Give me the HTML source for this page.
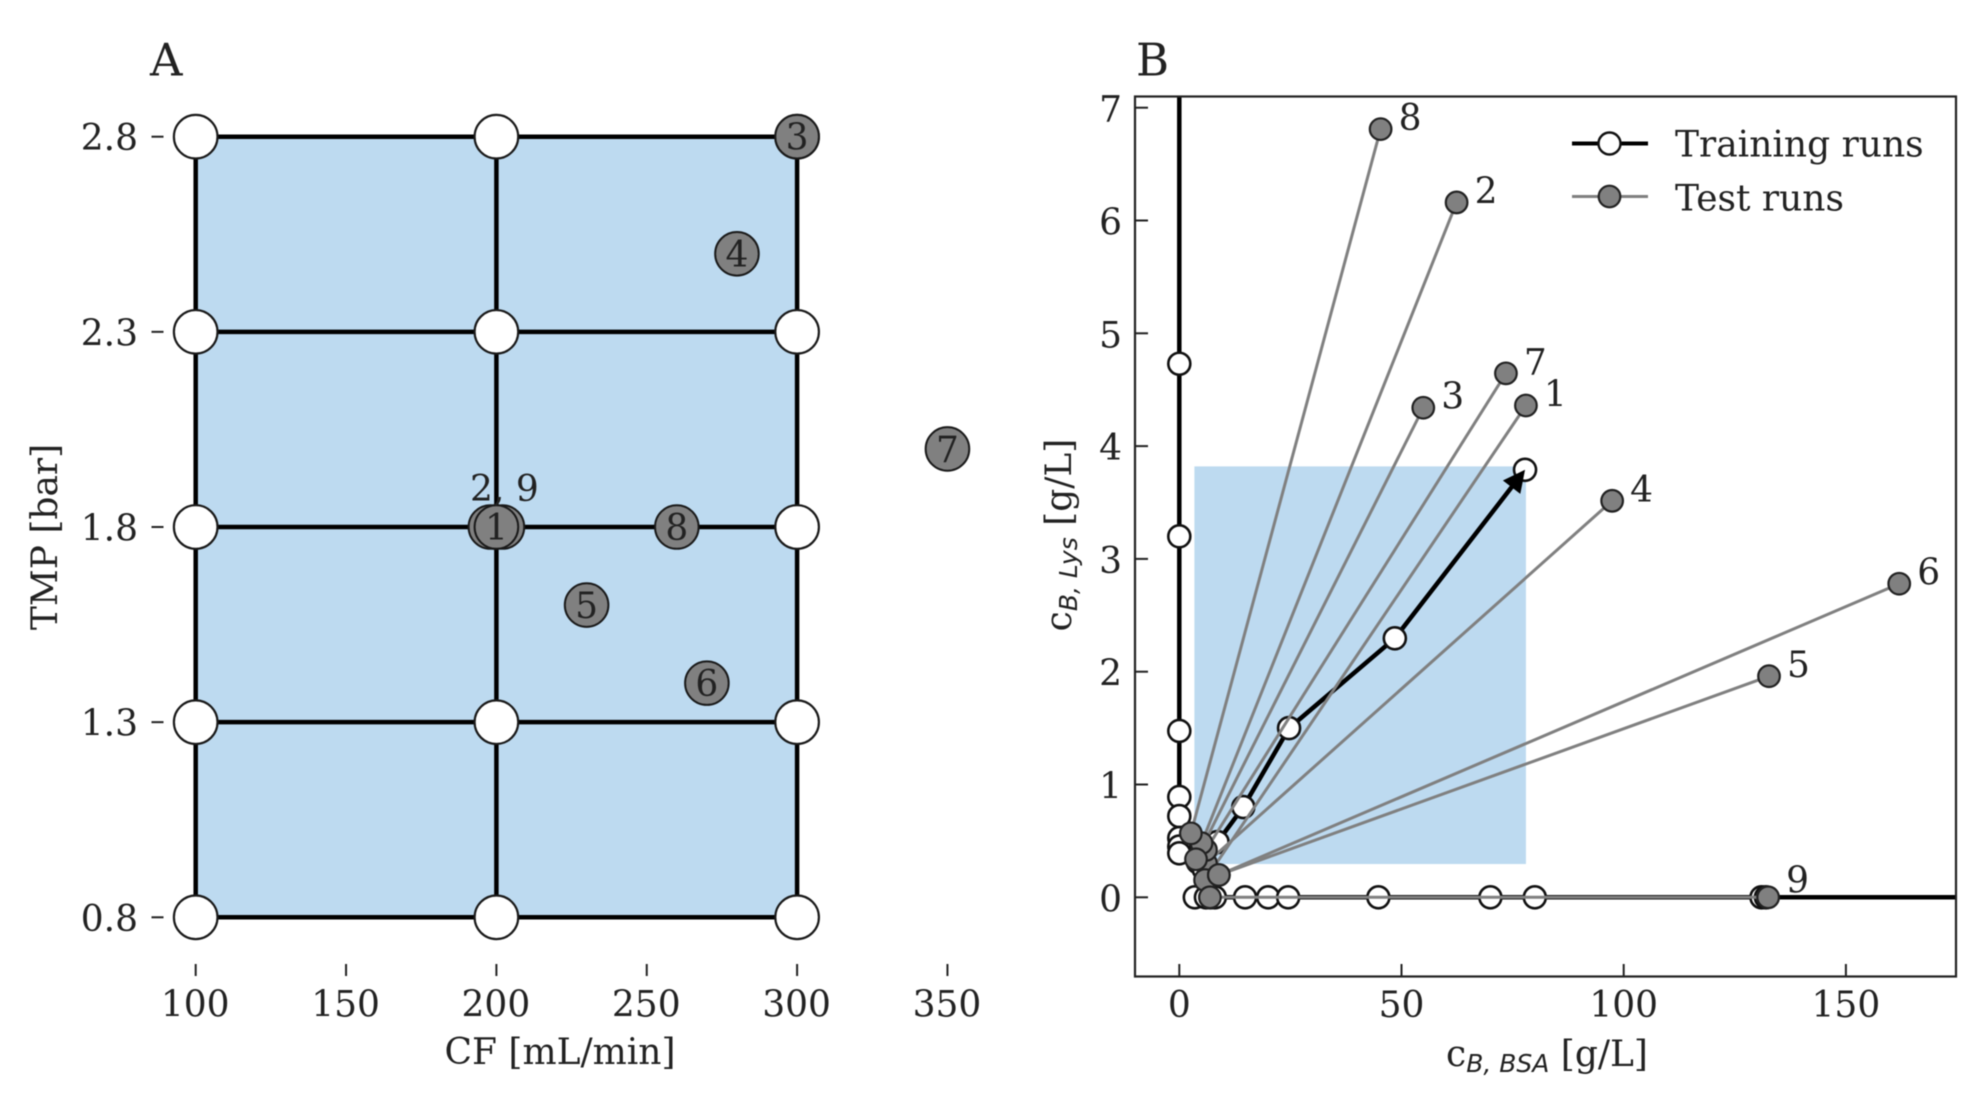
<!DOCTYPE html>
<html lang="en">
<head>
<meta charset="utf-8">
<title>Panels A and B: design space and breakthrough concentrations</title>
<style>
  html, body { margin: 0; padding: 0; background: #fff; }
  svg { display: block; filter: blur(0.6px); }
  text { font-family: "DejaVu Serif", "Liberation Serif", serif; font-size: 36px; fill: #222; }
  .sub { font-family: "DejaVu Sans", "Liberation Sans", sans-serif; font-style: italic; font-size: 25px; }
</style>
</head>
<body>
<svg id="figure" xmlns="http://www.w3.org/2000/svg" width="1984" height="1100" viewBox="0 0 1984 1100">
  <rect x="0" y="0" width="1984" height="1100" fill="#fff"/>
  <defs>
    <clipPath id="plot-b-clip"><rect x="1135" y="96" width="821" height="880.5"/></clipPath>
  </defs>

  <g id="panel-a"></g>
  <g id="panel-b"></g>

  <text x="150" y="75.5" style="font-size:45px">A</text>
  <text x="1136" y="75.5" style="font-size:45px">B</text>

  <text x="560" y="1064" text-anchor="middle">CF [mL/min]</text>
  <text transform="translate(57,537) rotate(-90)" text-anchor="middle">TMP [bar]</text>

  <text x="1547" y="1066" text-anchor="middle">c<tspan class="sub" dy="6">B, BSA</tspan><tspan dy="-6"> [g/L]</tspan></text>
  <text transform="translate(1071,535) rotate(-90)" text-anchor="middle">c<tspan class="sub" dy="6">B, Lys</tspan><tspan dy="-6"> [g/L]</tspan></text>

  <g>
    <line x1="1572" y1="143.5" x2="1648" y2="143.5" stroke="#000" stroke-width="4"/>
    <circle cx="1609.5" cy="143.5" r="11" fill="#fff" stroke="#111" stroke-width="2.4"/>
    <text x="1675" y="156.5">Training runs</text>
    <line x1="1572" y1="196.5" x2="1648" y2="196.5" stroke="#808080" stroke-width="3"/>
    <circle cx="1609.5" cy="196.5" r="10.8" fill="#808080" stroke="#222" stroke-width="2.2"/>
    <text x="1675" y="210.5">Test runs</text>
  </g>
</svg>

<script>
// ---------- Panel A data ----------
const gridCF = [100, 200, 300];
const gridTMP = [0.8, 1.3, 1.8, 2.3, 2.8];
const testRunsA = ['3', '4', '7', '8', '2', '9', '1', '5', '6'];
const testCF = [300, 280, 350, 260, 198, 202, 200, 230, 270];
const testTMP = [2.8, 2.5, 2.0, 1.8, 1.8, 1.8, 1.8, 1.6, 1.4];
const xTicksA = ['100', '150', '200', '250', '300', '350'];
const yTicksA = ['0.8', '1.3', '1.8', '2.3', '2.8'];

// ---------- Panel B data ----------
const trainVerticalBSA = [0, 0, 0, 0, 0, 0, 0, 0, 0];
const trainVerticalLys = [8.5, 4.73, 3.2, 1.475, 0.89, 0.72, 0.525, 0.45, 0.39];
const trainHorizontalBSA = [3.5, 6, 7, 8, 14.8, 20, 24.5, 44.8, 70, 80, 131, 132, 200];
const trainHorizontalLys = [0, 0, 0, 0, 0, 0, 0, 0, 0, 0, 0, 0, 0];
const trainDiagonalBSA = [4.2, 5.5, 8.6, 14.4, 24.7, 48.5, 77.8];
const trainDiagonalLys = [0.31, 0.25, 0.49, 0.8, 1.5, 2.296, 3.79];
const testRunsB = ['4', '7', '2', '1', '5', '6', '3', '8', '9'];
const testStartBSA = [6, 6, 5, 5.8, 8.9, 8.9, 3.76, 2.6, 6.9];
const testStartLys = [0.3, 0.42, 0.48, 0.153, 0.198, 0.198, 0.337, 0.567, 0];
const testEndBSA = [97.4, 73.5, 62.4, 78, 132.7, 162, 54.9, 45.3, 132.5];
const testEndLys = [3.515, 4.645, 6.16, 4.36, 1.96, 2.78, 4.34, 6.81, 0];
const regionBSA = [3.4, 78];
const regionLys = [0.295, 3.82];
const xTicksB = ['0', '50', '100', '150'];
const yTicksB = ['0', '1', '2', '3', '4', '5', '6', '7'];

// ---------- Axis functions ----------
function xA(v) { return 195.7 + (v - 100) * 3.007; }
function yA(v) { return 136.7 + (2.8 - v) * 390.3; }
function xB(v) { return 1179.3 + v * 4.444; }
function yB(v) { return 897.3 - v * 112.8; }

const NS = 'http://www.w3.org/2000/svg';
function make(tag, parent, geometry, content) {
  const el = document.createElementNS(NS, tag);
  for (const key in geometry) { el.setAttribute(key, geometry[key]); }
  if (content !== undefined) { el.textContent = content; }
  parent.appendChild(el);
  return el;
}
function pathFrom(xs, ys, xf, yf) {
  return xs.map(function (v, i) { return (i ? 'L' : 'M') + xf(v).toFixed(2) + ' ' + yf(ys[i]).toFixed(2); }).join(' ');
}

// ---------- Panel A ----------
const panelA = document.getElementById('panel-a');

const designRegion = make('rect', panelA, {
  x: xA(gridCF[0]), y: yA(gridTMP[gridTMP.length - 1]),
  width: xA(gridCF[gridCF.length - 1]) - xA(gridCF[0]),
  height: yA(gridTMP[0]) - yA(gridTMP[gridTMP.length - 1]),
  fill: '#bddaf0'
});



gridTMP.forEach(function (t) {
  const line = make('line', panelA, { x1: xA(gridCF[0]), x2: xA(gridCF[gridCF.length - 1]), y1: yA(t), y2: yA(t), stroke: '#000', 'stroke-width': 4.5 });
  
  
});
gridCF.forEach(function (c) {
  const line = make('line', panelA, { x1: xA(c), x2: xA(c), y1: yA(gridTMP[0]), y2: yA(gridTMP[gridTMP.length - 1]), stroke: '#000', 'stroke-width': 4.5, 'stroke-linecap': 'square' });
  
  
});

xTicksA.forEach(function (label) {
  const v = Number(label);
  const tick = make('line', panelA, { x1: xA(v), x2: xA(v), y1: 964, y2: 976, stroke: '#222', 'stroke-width': 2 });
  
  
  const text = make('text', panelA, { x: xA(v) - 0.5, y: 1016.5, 'text-anchor': 'middle' }, label);
  
  
});
yTicksA.forEach(function (label) {
  const v = Number(label);
  const tick = make('line', panelA, { x1: 151.5, x2: 163.5, y1: yA(v), y2: yA(v), stroke: '#222', 'stroke-width': 2 });
  
  
  const text = make('text', panelA, { x: 138, y: yA(v) + 13.5, 'text-anchor': 'end' }, label);
  
  
});

gridCF.forEach(function (c) {
  gridTMP.forEach(function (t) {
    const point = make('circle', panelA, { cx: xA(c), cy: yA(t), r: 21.8, fill: '#fff', stroke: '#1a1a1a', 'stroke-width': 2.2 });
    
    
  });
});

testRunsA.forEach(function (run, i) {
  const point = make('circle', panelA, { cx: xA(testCF[i]), cy: yA(testTMP[i]), r: 21.8, fill: '#808080', stroke: '#1a1a1a', 'stroke-width': 2 });
  
  
  if (run !== '2' && run !== '9') {
    const text = make('text', panelA, { x: xA(testCF[i]), y: yA(testTMP[i]) + 13, 'text-anchor': 'middle' }, run);
    
    
  }
});
const sharedLabel = make('text', panelA, { x: xA(200) + 8, y: yA(1.8) - 26, 'text-anchor': 'middle' }, '2, 9');



// ---------- Panel B ----------
const panelB = document.getElementById('panel-b');

const operatingRegion = make('rect', panelB, {
  x: xB(regionBSA[0]), y: yB(regionLys[1]),
  width: xB(regionBSA[1]) - xB(regionBSA[0]),
  height: yB(regionLys[0]) - yB(regionLys[1]),
  fill: '#bddaf0'
});



const plotB = make('g', panelB, { 'clip-path': 'url(#plot-b-clip)' });



const trainingSeries = [
  ['vertical', trainVerticalBSA, trainVerticalLys],
  ['horizontal', trainHorizontalBSA, trainHorizontalLys],
  ['diagonal', trainDiagonalBSA, trainDiagonalLys]
];
trainingSeries.forEach(function (series) {
  const line = make('path', plotB, { d: pathFrom(series[1], series[2], xB, yB), fill: 'none', stroke: '#000', 'stroke-width': 4.5, 'stroke-linejoin': 'round' });
  
  
  series[1].forEach(function (v, i) {
    const point = make('circle', plotB, { cx: xB(v), cy: yB(series[2][i]), r: 11, fill: '#fff', stroke: '#111', 'stroke-width': 2.6 });
    
    
  });
});

// arrow head at the end of the diagonal training path
(function () {
  const n = trainDiagonalBSA.length;
  const tx = xB(trainDiagonalBSA[n - 1]), ty = yB(trainDiagonalLys[n - 1]);
  const fx = xB(trainDiagonalBSA[n - 2]), fy = yB(trainDiagonalLys[n - 2]);
  const d = Math.hypot(tx - fx, ty - fy);
  const ux = (tx - fx) / d, uy = (ty - fy) / d;
  const bx = tx - ux * 22, by = ty - uy * 22;
  const pts = [tx, ty, bx - uy * 11, by + ux * 11, bx + uy * 11, by - ux * 11].map(function (p) { return p.toFixed(2); }).join(' ');
  const head = make('polygon', plotB, { points: pts, fill: '#000' });
  
  
})();

testRunsB.forEach(function (run, i) {
  const line = make('line', plotB, { x1: xB(testStartBSA[i]), y1: yB(testStartLys[i]), x2: xB(testEndBSA[i]), y2: yB(testEndLys[i]), stroke: '#808080', 'stroke-width': 3 });
  
  
});
testRunsB.forEach(function (run, i) {
  const start = make('circle', plotB, { cx: xB(testStartBSA[i]), cy: yB(testStartLys[i]), r: 10.8, fill: '#808080', stroke: '#222', 'stroke-width': 2.2 });
  
  
});
testRunsB.forEach(function (run, i) {
  const end = make('circle', plotB, { cx: xB(testEndBSA[i]), cy: yB(testEndLys[i]), r: 10.8, fill: '#808080', stroke: '#222', 'stroke-width': 2.2 });
  
  
  const raise = run === '9' ? 5 : -1;
  const text = make('text', plotB, { x: xB(testEndBSA[i]) + 18, y: yB(testEndLys[i]) - raise }, run);
  
  
});

const frame = make('rect', panelB, { x: 1135, y: 96.5, width: 821, height: 880, fill: 'none', stroke: '#222', 'stroke-width': 2.2 });



xTicksB.forEach(function (label) {
  const v = Number(label);
  const tick = make('line', panelB, { x1: xB(v), x2: xB(v), y1: 964, y2: 976, stroke: '#222', 'stroke-width': 2 });
  
  
  const text = make('text', panelB, { x: xB(v), y: 1017, 'text-anchor': 'middle' }, label);
  
  
});
yTicksB.forEach(function (label) {
  const v = Number(label);
  const tick = make('line', panelB, { x1: 1135, x2: 1148, y1: yB(v), y2: yB(v), stroke: '#222', 'stroke-width': 2 });
  
  
  const text = make('text', panelB, { x: 1122, y: yB(v) + 14, 'text-anchor': 'end' }, label);
  
  
});
</script>
</body>
</html>
